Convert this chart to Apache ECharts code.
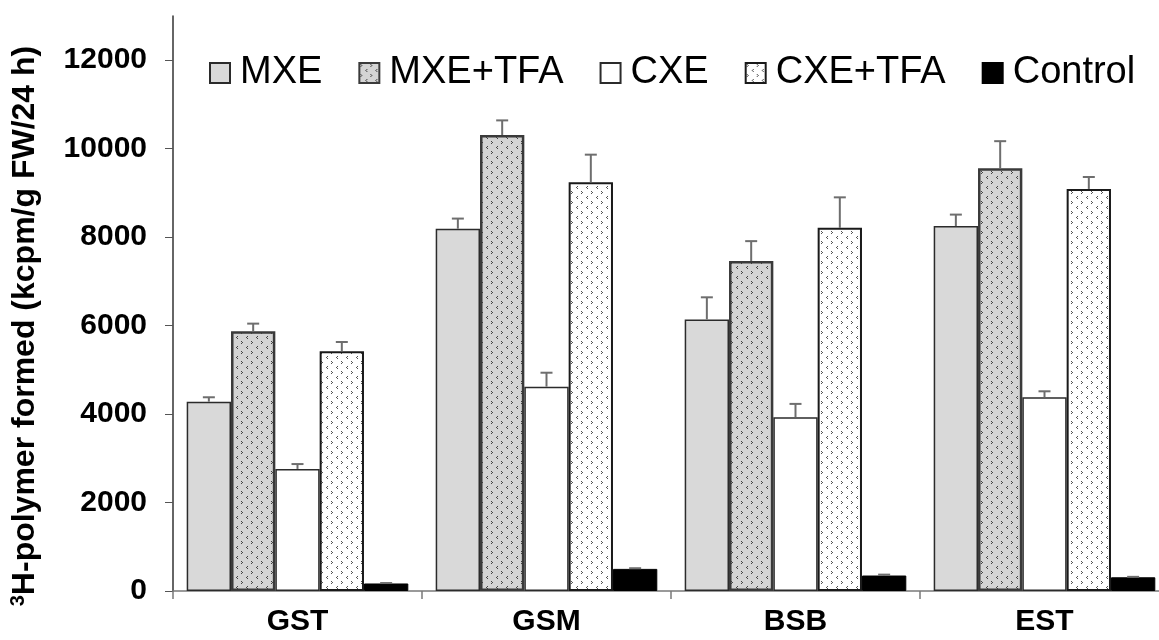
<!DOCTYPE html>
<html>
<head>
<meta charset="utf-8">
<script src="https://cdn.jsdelivr.net/npm/echarts@6/dist/echarts.min.js"></script>
<style>
  html, body { margin: 0; padding: 0; background: #fff; }
  #main { width: 1159px; height: 640px; }
</style>
</head>
<body>
<div id="main"></div>
<script>
// categories and values
var categories = ['GST', 'GSM', 'BSB', 'EST'];
var seriesNames = ['MXE', 'MXE+TFA', 'CXE', 'CXE+TFA', 'Control'];
var mxe      = [4280, 8190, 6140, 8250];
var mxeTfa   = [5870, 10310, 7460, 9560];
var cxe      = [2760, 4620, 3930, 4380];
var cxeTfa   = [5420, 9240, 8210, 9090];
var control  = [170, 500, 350, 310];
// upper error (SD)
var mxeErr     = [100, 230, 500, 260];
var mxeTfaErr  = [175, 330, 450, 610];
var cxeErr     = [110, 315, 300, 135];
var cxeTfaErr  = [210, 625, 690, 270];
var controlErr = [10, 15, 20, 10];
var yTicks = [0, 2000, 4000, 6000, 8000, 10000, 12000];

var values = [mxe, mxeTfa, cxe, cxeTfa, control];
var errors = [mxeErr, mxeTfaErr, cxeErr, cxeTfaErr, controlErr];

var GAP = 0.11; // bar category gap
var FONT = 'Liberation Sans, Arial, sans-serif';

// dotted fill like the excel pattern
function makePattern(bg, ink) {
  var c = document.createElement('canvas');
  c.width = 10; c.height = 10;
  var ctx = c.getContext('2d');
  ctx.fillStyle = bg;
  ctx.fillRect(0, 0, 10, 10);
  ctx.fillStyle = ink;
  // ">" mark
  ctx.fillRect(1, 1, 1, 1); ctx.fillRect(2, 2, 1, 1); ctx.fillRect(1, 3, 1, 1);
  // "<" mark
  ctx.fillRect(7, 6, 1, 1); ctx.fillRect(6, 7, 1, 1); ctx.fillRect(7, 8, 1, 1);
  return { image: c, repeat: 'repeat' };
}

var fills = [
  '#d9d9d9',
  makePattern('#d4d4d4', '#444444'),
  '#ffffff',
  makePattern('#ffffff', '#555555'),
  '#000000'
];
var borders = [
  { c: '#2b2b2b', w: 1.5 },
  { c: '#3a3a3a', w: 2.5 },
  { c: '#2b2b2b', w: 1.5 },
  { c: '#1a1a1a', w: 2 },
  { c: '#000000', w: 1 }
];

var errData = [];
values.forEach(function (vals, si) {
  vals.forEach(function (v, ci) {
    errData.push([ci, v, errors[si][ci], si]);
  });
});

var series = seriesNames.map(function (name, i) {
  return {
    name: name,
    type: 'bar',
    barGap: '0%',
    barCategoryGap: (GAP * 100) + '%',
    data: values[i],
    itemStyle: {
      color: fills[i],
      borderColor: borders[i].c,
      borderWidth: borders[i].w
    },
    emphasis: { disabled: true }
  };
});

series.push({
  type: 'custom',
  name: 'err',
  z: 5,
  data: errData,
  encode: { x: 0, y: 1 },
  renderItem: function (params, api) {
    var ci = api.value(0), v = api.value(1), e = api.value(2), si = api.value(3);
    var base = api.coord([ci, v]);
    var top = api.coord([ci, v + e]);
    var band = api.size([1, 0])[0];
    var bw = band * (1 - GAP) / 5;
    var x = base[0] - band * (1 - GAP) / 2 + bw * (si + 0.5);
    var st = { stroke: '#6e6e6e', lineWidth: 2 };
    return {
      type: 'group',
      children: [
        { type: 'line', shape: { x1: x, y1: base[1], x2: x, y2: top[1] }, style: st },
        { type: 'line', shape: { x1: x - 6, y1: top[1], x2: x + 6, y2: top[1] }, style: st }
      ]
    };
  }
});

var chart = echarts.init(document.getElementById('main'));
chart.setOption({
  animation: false,
  backgroundColor: '#fff',
  grid: { left: 173, right: -10, top: 16, bottom: 49, containLabel: false, outerBoundsMode: 'none' },
  legend: {
    data: seriesNames,
    left: 204,
    top: 49,
    icon: 'rect',
    itemWidth: 20,
    itemHeight: 20,
    itemGap: 36,
    selectedMode: false,
    textStyle: {
      fontFamily: FONT,
      fontSize: 38,
      color: '#000',
      padding: [0, 0, 0, 5]
    }
  },
  graphic: [{
    type: 'text',
    x: 25,
    y: 326,
    rotation: Math.PI / 2,
    style: {
      text: '{sup|3}{t|H-polymer formed (kcpm/g FW/24 h)}',
      align: 'center',
      verticalAlign: 'middle',
      rich: {
        t: { fontFamily: FONT, fontWeight: 'bold', fontSize: 32, fill: '#000' },
        sup: { fontFamily: FONT, fontWeight: 'bold', fontSize: 20, fill: '#000', padding: [0, 0, 13, 0] }
      }
    }
  }],
  xAxis: {
    type: 'category',
    data: categories,
    axisLine: { lineStyle: { color: '#7a7a7a', width: 1.5 } },
    axisTick: { show: true, length: 8, lineStyle: { color: '#7a7a7a', width: 1.5 } },
    axisLabel: {
      margin: 16,
      fontFamily: FONT,
      fontWeight: 'bold',
      fontSize: 30,
      color: '#000'
    }
  },
  yAxis: {
    type: 'value',
    min: 0,
    max: 13000,
    interval: 2000,
    splitLine: { show: false },
    axisLine: { show: true, lineStyle: { color: '#333', width: 1.5 } },
    axisTick: { show: true, length: 8, customValues: yTicks, lineStyle: { color: '#555', width: 1 } },
    axisLabel: {
      customValues: yTicks,
      formatter: function (v) { return String(v); },
      margin: 26,
      fontFamily: FONT,
      fontWeight: 'bold',
      fontSize: 30,
      color: '#000'
    }
  },
  series: series
});
</script>
</body>
</html>
